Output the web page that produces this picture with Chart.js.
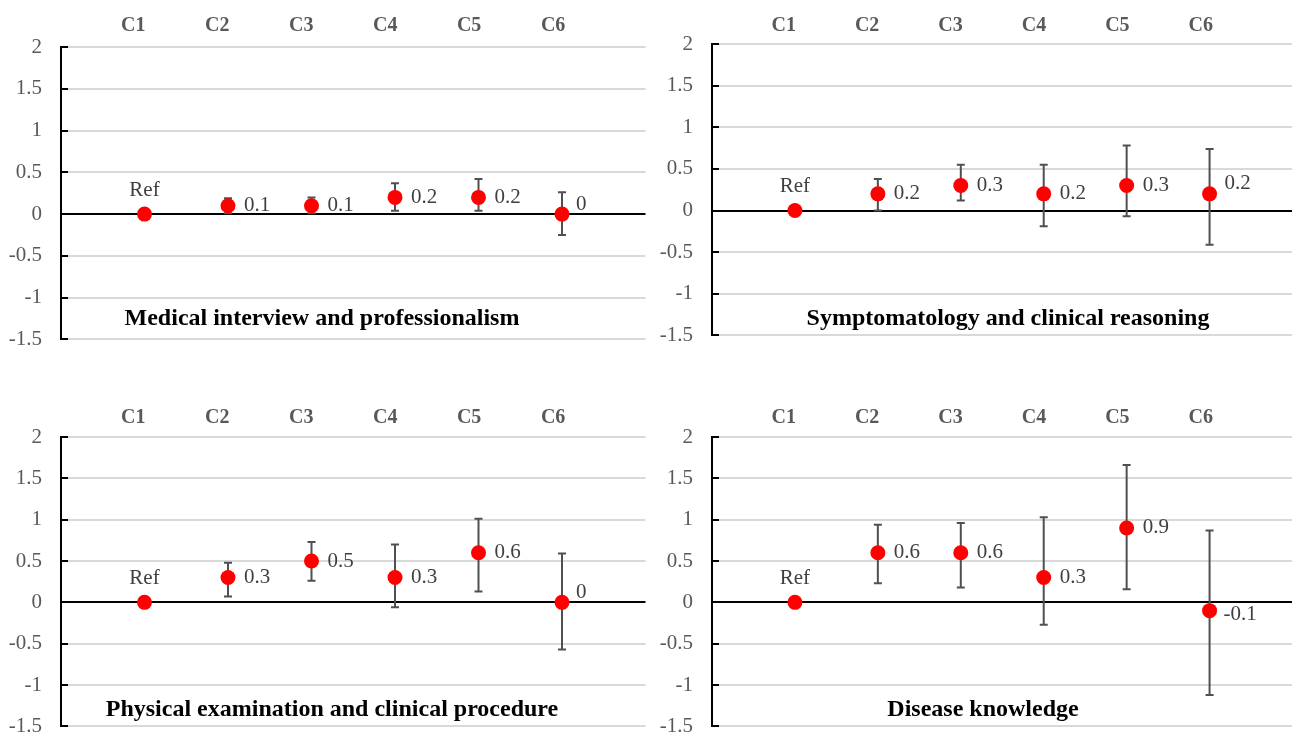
<!DOCTYPE html>
<html>
<head>
<meta charset="utf-8">
<script src="https://cdn.jsdelivr.net/npm/chart.js@4"></script>
<style>
  body { margin: 0; background: #fff; }
  #wrap { position: relative; width: 1292px; height: 736px; overflow: hidden; }
  canvas { position: absolute; }
  #c1 { left: 0; top: 0; }
  #c2 { left: 651px; top: 0; }
  #c3 { left: 0; top: 390px; }
  #c4 { left: 651px; top: 390px; }
</style>
</head>
<body>
<div id="wrap">
  <canvas id="c4" width="649" height="368"></canvas>
  <canvas id="c3" width="653" height="368"></canvas>
  <canvas id="c2" width="649" height="367"></canvas>
  <canvas id="c1" width="653" height="371"></canvas>
</div>
<script>
// categories and tick labels
const categories = ['C1', 'C2', 'C3', 'C4', 'C5', 'C6'];
const yTicks = [2, 1.5, 1, 0.5, 0, -0.5, -1, -1.5];
const panelTitles = [
    'Medical interview and professionalism',
    'Symptomatology and clinical reasoning',
    'Physical examination and clinical procedure',
    'Disease knowledge'
];

// estimates with lower / upper bounds (C1 = reference)
const interviewEst  = [0, 0.1, 0.1, 0.2, 0.2, 0];
const interviewLow  = [0, 0.01, 0.01, 0.04, 0.04, -0.25];
const interviewHigh = [0, 0.19, 0.2, 0.37, 0.42, 0.26];

const reasoningEst  = [0, 0.2, 0.3, 0.2, 0.3, 0.2];
const reasoningLow  = [0, 0.0, 0.12, -0.19, -0.07, -0.41];
const reasoningHigh = [0, 0.38, 0.55, 0.55, 0.78, 0.74];

const examEst  = [0, 0.3, 0.5, 0.3, 0.6, 0];
const examLow  = [0, 0.07, 0.26, -0.06, 0.13, -0.57];
const examHigh = [0, 0.48, 0.73, 0.70, 1.01, 0.59];

const knowledgeEst  = [0, 0.6, 0.6, 0.3, 0.9, -0.1];
const knowledgeLow  = [0, 0.23, 0.18, -0.27, 0.16, -1.12];
const knowledgeHigh = [0, 0.94, 0.96, 1.03, 1.66, 0.87];

const serif = '"Liberation Serif", "Times New Roman", serif';

const panels = [
    {id: 'c1', est: interviewEst, low: interviewLow, high: interviewHigh, title: panelTitles[0],
     top: 47, topPad: 1, titleX: 322, titleY: 319, lastDx: 14, lastDy: -10},
    {id: 'c2', est: reasoningEst, low: reasoningLow, high: reasoningHigh, title: panelTitles[1],
     top: 44, topPad: -2, titleX: 357, titleY: 319, lastDx: 15, lastDy: -10},
    {id: 'c3', est: examEst, low: examLow, high: examHigh, title: panelTitles[2],
     top: 47, topPad: -1, titleX: 332, titleY: 320, lastDx: 14, lastDy: -10},
    {id: 'c4', est: knowledgeEst, low: knowledgeLow, high: knowledgeHigh, title: panelTitles[3],
     top: 47, topPad: -1, titleX: 332, titleY: 320, lastDx: 14, lastDy: 4}
];

const extras = {
    id: 'extras',
    beforeDatasetsDraw(chart, args, opts) {
        const c = chart.ctx, x = chart.scales.x, y = chart.scales.y;
        const area = chart.chartArea;
        c.save();
        // inward tick marks on the y axis
        c.strokeStyle = '#000';
        c.lineWidth = 2;
        yTicks.forEach(v => {
            const py = Math.round(y.getPixelForValue(v));
            c.beginPath();
            c.moveTo(area.left, py);
            c.lineTo(area.left + 7, py);
            c.stroke();
        });
        // error bars
        c.strokeStyle = '#505050';
        opts.low.forEach((lo, i) => {
            const hi = opts.high[i];
            if (lo === hi) return;
            const px = x.getPixelForValue(i + 1);
            const y1 = y.getPixelForValue(lo), y2 = y.getPixelForValue(hi);
            c.beginPath();
            c.moveTo(px, y1); c.lineTo(px, y2);
            c.moveTo(px - 4, y1); c.lineTo(px + 4, y1);
            c.moveTo(px - 4, y2); c.lineTo(px + 4, y2);
            c.stroke();
        });
        c.restore();
    },
    afterDatasetsDraw(chart, args, opts) {
        const c = chart.ctx, x = chart.scales.x, y = chart.scales.y;
        c.save();
        c.font = '21px ' + serif;
        c.fillStyle = '#404040';
        c.textBaseline = 'middle';
        opts.est.forEach((v, i) => {
            const px = x.getPixelForValue(i + 1), py = y.getPixelForValue(v);
            if (i === 0) {
                c.textAlign = 'center';
                c.fillText('Ref', px, py - 24);
                return;
            }
            c.textAlign = 'left';
            const last = i === opts.est.length - 1;
            c.fillText(String(v), px + (last ? opts.lastDx : 16), py + (last ? opts.lastDy : 0));
        });
        // panel title inside the plot
        c.font = 'bold 24px ' + serif;
        c.fillStyle = '#000';
        c.textAlign = 'center';
        c.fillText(opts.title, opts.titleX, opts.titleY);
        c.restore();
    }
};

panels.forEach(p => {
    new Chart(document.getElementById(p.id), {
        type: 'scatter',
        data: {
            datasets: [{
                data: p.est.map((v, i) => ({x: i + 1, y: v})),
                backgroundColor: '#ff0000',
                borderWidth: 0,
                pointRadius: 7.5,
                pointHoverRadius: 7.5
            }]
        },
        plugins: [extras],
        options: {
            responsive: false,
            animation: false,
            layout: {padding: 0},
            scales: {
                x: {type: 'linear', min: 0, max: 7, display: false},
                x2: {
                    type: 'linear',
                    position: 'top',
                    min: 0.14,
                    max: 7.1,
                    afterBuildTicks: s => { s.ticks = categories.map((c, i) => ({value: i + 1})); },
                    afterFit: s => { s.height = p.top; },
                    ticks: {
                        callback: v => categories[v - 1] || '',
                        font: {family: serif, size: 20, weight: 'bold'},
                        color: '#595959',
                        padding: p.topPad,
                        maxRotation: 0,
                        autoSkip: false
                    },
                    grid: {display: false},
                    border: {display: false}
                },
                y: {
                    min: -1.5,
                    max: 2,
                    afterBuildTicks: s => { s.ticks = yTicks.map(v => ({value: v})); },
                    afterFit: s => { s.width = 61; },
                    ticks: {
                        callback: v => String(v),
                        font: {family: serif, size: 21},
                        color: '#595959',
                        padding: 19
                    },
                    grid: {
                        color: c => c.tick && c.tick.value === 0 ? '#000' : '#d9d9d9',
                        lineWidth: 2,
                        drawTicks: false
                    },
                    border: {color: '#000', width: 2}
                }
            },
            plugins: {
                legend: {display: false},
                tooltip: {enabled: false},
                extras: {est: p.est, low: p.low, high: p.high, title: p.title,
                         titleX: p.titleX, titleY: p.titleY, lastDx: p.lastDx, lastDy: p.lastDy}
            }
        }
    });
});
</script>
</body>
</html>
